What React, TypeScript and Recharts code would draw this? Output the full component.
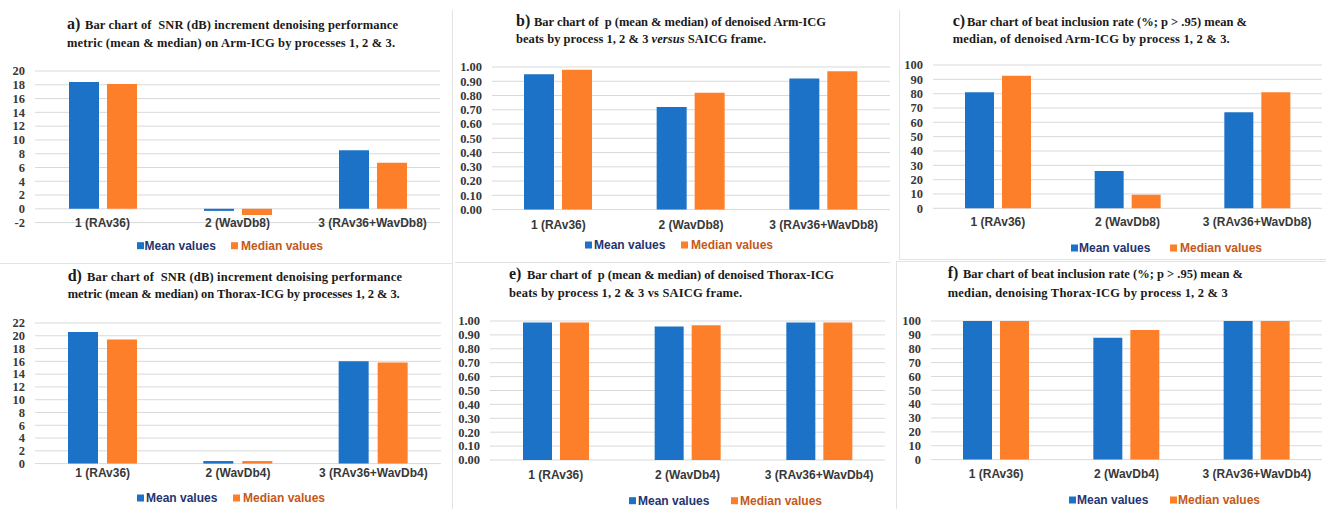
import { BarChart, Bar, XAxis, YAxis, CartesianGrid } from "recharts";

const armCategories = ["1 (RAv36)", "2 (WavDb8)", "3 (RAv36+WavDb8)"];
const thoraxCategories = ["1 (RAv36)", "2 (WavDb4)", "3 (RAv36+WavDb4)"];

// SNR (dB) increment
const armSnrMean = [18.4, -0.3, 8.5];
const armSnrMedian = [18.1, -0.9, 6.7];
const thoraxSnrMean = [20.6, 0.4, 16.0];
const thoraxSnrMedian = [19.4, 0.4, 15.8];

// p versus SAICG frame
const armPMean = [0.95, 0.72, 0.92];
const armPMedian = [0.98, 0.82, 0.97];
const thoraxPMean = [0.99, 0.96, 0.99];
const thoraxPMedian = [0.99, 0.97, 0.99];

// beat inclusion rate (%; p > .95)
const armRateMean = [81, 26, 67];
const armRateMedian = [92.5, 9.5, 81];
const thoraxRateMean = [100, 88, 100];
const thoraxRateMedian = [100, 93.5, 100];

const armSnrTicks = [-2, 0, 2, 4, 6, 8, 10, 12, 14, 16, 18, 20];
const thoraxSnrTicks = [0, 2, 4, 6, 8, 10, 12, 14, 16, 18, 20, 22];
const pTicks = [0, 0.1, 0.2, 0.3, 0.4, 0.5, 0.6, 0.7, 0.8, 0.9, 1.0];
const rateTicks = [0, 10, 20, 30, 40, 50, 60, 70, 80, 90, 100];

const legendLabels = ["Mean values", "Median values"];

const BLUE = "#1b72c6";
const ORANGE = "#fe7f2a";
const MEAN_TEXT = "#1f3570";
const MEDIAN_TEXT = "#c4591a";
const GRID = "#d9d9d9";
const TICK_TEXT = "#383838";
const SERIF = "Liberation Serif";
const SANS = "Liberation Sans";

const rows = (cats: string[], mean: number[], median: number[]) =>
  cats.map((name, i) => ({ name, mean: mean[i], median: median[i] }));

type PanelSpec = {
  data: { name: string; mean: number; median: number }[];
  ticks: number[];
  digits: number;
  x0: number; // plot left
  x1: number; // plot right
  yTop: number; // y of highest tick
  yBottom: number; // y of lowest tick
  barSize: number;
  barGap: number;
  labelShift: number;
  tag: string;
  tagX: number;
  line1: string;
  line1X: number;
  line1W: number;
  line1Y: number;
  line2: React.ReactNode;
  line2W: number;
  line2Y: number;
  legend: number[]; // blue square, mean text, orange square, median text, centre y
};

const panels: PanelSpec[] = [
  {
    data: rows(armCategories, armSnrMean, armSnrMedian),
    ticks: armSnrTicks, digits: 0,
    x0: 35, x1: 440, yTop: 70.7, yBottom: 222.3,
    barSize: 30, barGap: 8, labelShift: 4.5,
    tag: "a)", tagX: 67,
    line1: "Bar chart of  SNR (dB) increment denoising performance", line1X: 85, line1W: 313, line1Y: 29,
    line2: "metric (mean & median) on Arm-ICG by processes 1, 2 & 3.", line2W: 328, line2Y: 47,
    legend: [137, 144.5, 231, 241, 245.7],
  },
  {
    data: rows(armCategories, armPMean, armPMedian),
    ticks: pTicks, digits: 2,
    x0: 492, x1: 890, yTop: 66.7, yBottom: 209.3,
    barSize: 30, barGap: 8, labelShift: 19,
    tag: "b)", tagX: 516,
    line1: "Bar chart of  p (mean & median) of denoised Arm-ICG", line1X: 534, line1W: 292, line1Y: 26.3,
    line2: (
      <>
        beats by process 1, 2 &amp; 3 <tspan fontStyle="italic">versus</tspan> SAICG frame.
      </>
    ),
    line2W: 250, line2Y: 42.7,
    legend: [585, 594, 681, 691, 245],
  },
  {
    data: rows(armCategories, armRateMean, armRateMedian),
    ticks: rateTicks, digits: 0,
    x0: 933, x1: 1322, yTop: 65, yBottom: 208.3,
    barSize: 29, barGap: 8, labelShift: 17.5,
    tag: "c)", tagX: 952.7,
    line1: "Bar chart of beat inclusion rate (%; p > .95) mean &", line1X: 967, line1W: 280, line1Y: 26.3,
    line2: "median, of denoised Arm-ICG by process 1, 2 & 3.", line2W: 277, line2Y: 42.7,
    legend: [1071, 1079, 1170, 1180, 248],
  },
  {
    data: rows(thoraxCategories, thoraxSnrMean, thoraxSnrMedian),
    ticks: thoraxSnrTicks, digits: 0,
    x0: 35, x1: 441, yTop: 322.7, yBottom: 463.3,
    barSize: 30, barGap: 9, labelShift: 13,
    tag: "d)", tagX: 67.7,
    line1: "Bar chart of  SNR (dB) increment denoising performance", line1X: 87, line1W: 315, line1Y: 280.7,
    line2: "metric (mean & median) on Thorax-ICG by processes 1, 2 & 3.", line2W: 332, line2Y: 298.3,
    legend: [137, 146, 233, 243, 498],
  },
  {
    data: rows(thoraxCategories, thoraxPMean, thoraxPMedian),
    ticks: pTicks, digits: 2,
    x0: 490, x1: 885, yTop: 321, yBottom: 460,
    barSize: 29, barGap: 8, labelShift: 19,
    tag: "e)", tagX: 509,
    line1: "Bar chart of  p (mean & median) of denoised Thorax-ICG", line1X: 527, line1W: 307, line1Y: 279.3,
    line2: "beats by process 1, 2 & 3 vs SAICG frame.", line2W: 233, line2Y: 296.7,
    legend: [629, 638, 731, 740, 500.7],
  },
  {
    data: rows(thoraxCategories, thoraxRateMean, thoraxRateMedian),
    ticks: rateTicks, digits: 0,
    x0: 931, x1: 1322, yTop: 320.7, yBottom: 459.3,
    barSize: 29, barGap: 8, labelShift: 18,
    tag: "f)", tagX: 947.7,
    line1: "Bar chart of beat inclusion rate (%; p > .95) mean &", line1X: 963, line1W: 280, line1Y: 278.3,
    line2: "median, denoising Thorax-ICG by process 1, 2 & 3", line2W: 280, line2Y: 296.7,
    legend: [1069, 1077, 1170, 1178, 500],
  },
];

// category names under the bars, bold sans
const CategoryTick = (props: any) => {
  const { x, y, payload, shift } = props;
  return (
    <text
      x={x}
      y={y + shift}
      textAnchor="middle"
      fill={TICK_TEXT}
      style={{ fontFamily: SANS, fontWeight: 700, fontSize: 12 }}
    >
      {payload.value}
    </text>
  );
};

// value labels on the left, bold serif
const ValueTick = (props: any) => {
  const { x, y, payload, digits } = props;
  return (
    <text
      x={x}
      y={y + 4.3}
      textAnchor="end"
      fill={TICK_TEXT}
      style={{ fontFamily: SERIF, fontWeight: 700, fontSize: 12.5 }}
    >
      {Number(payload.value).toFixed(digits)}
    </text>
  );
};

const Y_AXIS_W = 50;
const TOP_PAD = 10;
const X_AXIS_H = 40;

const Panel = ({ p }: { p: PanelSpec }) => {
  const plotW = p.x1 - p.x0;
  const plotH = p.yBottom - p.yTop;
  return (
    <div style={{ position: "absolute", left: p.x0 - Y_AXIS_W, top: p.yTop - TOP_PAD }}>
      <BarChart
        width={Y_AXIS_W + plotW}
        height={TOP_PAD + plotH + X_AXIS_H}
        data={p.data}
        margin={{ top: TOP_PAD, right: 0, bottom: 0, left: 0 }}
        barSize={p.barSize}
        barGap={p.barGap}
      >
        <CartesianGrid vertical={false} stroke={GRID} />
        <XAxis
          dataKey="name"
          height={X_AXIS_H}
          axisLine={false}
          tickLine={false}
          tickSize={0}
          tickMargin={0}
          interval={0}
          tick={<CategoryTick shift={p.labelShift} />}
        />
        <YAxis
          width={Y_AXIS_W}
          domain={[p.ticks[0], p.ticks[p.ticks.length - 1]]}
          ticks={p.ticks}
          interval={0}
          axisLine={false}
          tickLine={false}
          tickSize={0}
          tickMargin={10}
          tick={<ValueTick digits={p.digits} />}
        />
        <Bar dataKey="mean" fill={BLUE} isAnimationActive={false} />
        <Bar dataKey="median" fill={ORANGE} isAnimationActive={false} />
      </BarChart>
    </div>
  );
};

const Heading = ({ p }: { p: PanelSpec }) => (
  <g fill="#1a1a1a" style={{ fontFamily: SERIF, fontWeight: 700 }}>
    <text x={p.tagX} y={p.line1Y} fontSize={16}>
      {p.tag}
    </text>
    <text x={p.line1X} y={p.line1Y} fontSize={12.5} textLength={p.line1W} style={{ whiteSpace: "pre" }}>
      {p.line1}
    </text>
    <text x={p.tagX} y={p.line2Y} fontSize={12.5} textLength={p.line2W} style={{ whiteSpace: "pre" }}>
      {p.line2}
    </text>
  </g>
);

const LegendRow = ({ p }: { p: PanelSpec }) => {
  const [bx, mx, ox, dx, cy] = p.legend;
  return (
    <g style={{ fontFamily: SANS, fontWeight: 700, fontSize: 12 }}>
      <rect x={bx} y={cy - 3.5} width={7} height={7} fill={BLUE} />
      <text x={mx} y={cy + 4.3} fill={MEAN_TEXT}>
        {legendLabels[0]}
      </text>
      <rect x={ox} y={cy - 3.5} width={7} height={7} fill={ORANGE} />
      <text x={dx} y={cy + 4.3} fill={MEDIAN_TEXT}>
        {legendLabels[1]}
      </text>
    </g>
  );
};

const App = () => {
  return (
    <div
      style={{
        position: "absolute",
        left: 0,
        top: 0,
        width: 1326,
        height: 509,
        background: "#ffffff",
        overflow: "hidden",
      }}
    >
      {/* worksheet frame lines behind the charts */}
      <svg width={1326} height={509} style={{ position: "absolute", left: 0, top: 0 }}>
        <g stroke="#e3e3e3" strokeWidth={1} fill="none">
          <path d="M452.5,10 V509" />
          <path d="M899.5,10 V259.5 H1326" />
          <path d="M0,263.5 H452" />
          <path d="M455,262.5 H890" />
          <path d="M896.5,262 V509 M896,261.5 H1326" />
        </g>
      </svg>
      {panels.map((p) => (
        <Panel key={p.tag} p={p} />
      ))}
      <svg
        width={1326}
        height={509}
        style={{ position: "absolute", left: 0, top: 0, pointerEvents: "none" }}
      >
        {panels.map((p) => (
          <g key={p.tag}>
            <Heading p={p} />
            <LegendRow p={p} />
          </g>
        ))}
      </svg>
    </div>
  );
};

export default App;
